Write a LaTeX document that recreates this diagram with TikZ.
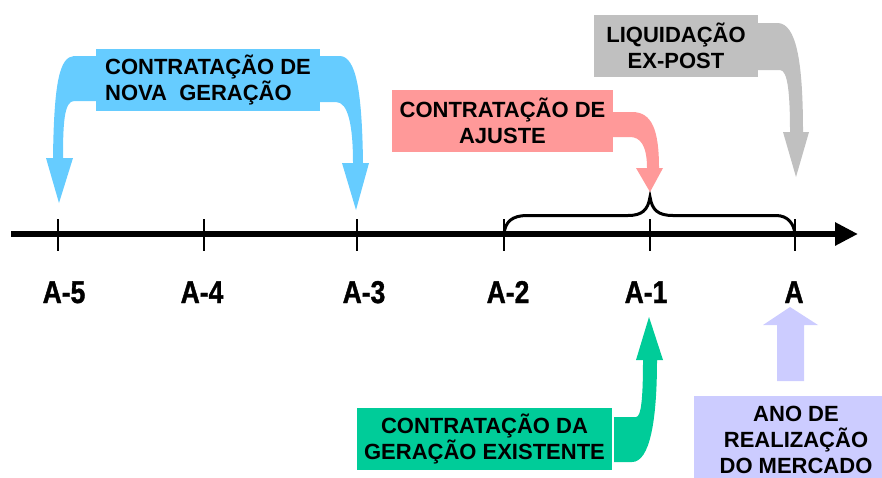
\documentclass[tikz,border=0pt]{standalone}
\usepackage{fontspec}
\setmainfont{Liberation Sans}
\newfontfamily\axisfont{Liberation Sans}[FakeStretch=0.84, FakeBold=1.2]
\usepackage{tikz}
\usetikzlibrary{arrows.meta}
\definecolor{novablue}{RGB}{102, 204, 255}
\definecolor{ajustepink}{RGB}{255, 153, 153}
\definecolor{liquidgray}{RGB}{192, 192, 192}
\definecolor{existgreen}{RGB}{0, 204, 153}
\definecolor{anolilac}{RGB}{204, 204, 255}

\begin{document}
\begin{tikzpicture}[x=1pt, y=-1pt,
            boxtext/.style = {
                inner sep=0pt,
                text=black,
                align=center,
                minimum height=62pt,
                font=\fontsize{22}{26}\selectfont\bfseries,
                },
            yearlabel/.style = {
                anchor=base,
                inner sep=0pt,
                font=\axisfont\fontsize{31.5}{32}\selectfont\bfseries,
                },
            tick/.style = {line width=1.4pt},
            axis/.style = {line width=6.5pt, -{Triangle[length=23pt, width=22pt]}},
            brace/.style = {line width=3pt, line cap=round}]
            \clip (0,0) rectangle (882,477);

            % linha do tempo
            \coordinate (start) at (11,234);
            \coordinate (end) at (858,234);
            \draw[axis] (start) -- (end);
            \foreach \x/\n/\txt/\dx in {58/5/A-5/6, 204/4/A-4/-2, 357/3/A-3/7, 504/2/A-2/4, 650/1/A-1/-4, 795/0/A/-1} {
                \coordinate (a\n) at (\x,234);
                \draw[tick] (a\n) ++(0,-15) -- ++(0,32);
                \node[yearlabel] (lab\n) at (\x+\dx,303) {\txt};
            }
            \draw[brace] (a2) .. controls (505,222) and (512,215.5) .. (527,215.5) -- (628,215.5)
                .. controls (642,215.5) and (648,210) .. (650,197)
                .. controls (652,210) and (658,215.5) .. (673,215.5) -- (776,215.5)
                .. controls (788,215.5) and (794,224) .. (a0);

            % caixas
            \node[boxtext, fill=novablue, minimum width=224pt, align=left] (nova) at (208,80) {CONTRATAÇÃO DE\\NOVA~~GERAÇÃO};
            \node[boxtext, fill=ajustepink, minimum width=221pt] (ajuste) at (502.5,121) {CONTRATAÇÃO DE\\AJUSTE};
            \node[boxtext, fill=liquidgray, minimum width=164pt] (liquid) at (676,46) {LIQUIDAÇÃO\\EX-POST};
            \node[boxtext, fill=existgreen, minimum width=255pt] (exist) at (484.5,439) {CONTRATAÇÃO DA\\GERAÇÃO EXISTENTE};
            \node[boxtext, fill=anolilac, minimum width=204pt, minimum height=88pt] (ano) at (796,440) {ANO DE\\REALIZAÇÃO\\DO MERCADO};
            \fill[anolilac] (ano.south west) rectangle ++(204,10);

            % setas
            \fill[novablue] (96,56) -- (74,56) .. controls (60,57) and (54,80) .. (53,158) -- (46,158) -- (59,203)
                -- (73,158) -- (63,158) .. controls (63,125) and (64,101) .. (74,101) -- (96,101) -- cycle;
            \fill[novablue] (320,56) -- (340,56) .. controls (356,57) and (362,90) .. (363,163) -- (369,163) -- (356,210)
                -- (342,163) -- (353,163) .. controls (353,125) and (348,102) .. (336,102) -- (320,102) -- cycle;
            \fill[ajustepink] (613,112) -- (632,112) .. controls (652,112) and (659,130) .. (659,168) -- (663,168) -- (650,192)
                -- (636,168) -- (647,168) .. controls (647,145) and (640,137) .. (630,137) -- (613,137) -- cycle;
            \fill[liquidgray] (758,23) -- (778,23) .. controls (796,24) and (803,60) .. (803,132) -- (809,132) -- (796,177)
                -- (783,132) -- (790,132) .. controls (790,95) and (788,70) .. (780,70) -- (758,70) -- cycle;
            \fill[existgreen] (614,417) -- (636,417) .. controls (641,417) and (643,400) .. (643,360) -- (636,360) -- (649,317)
                -- (663,360) -- (657,360) .. controls (657,420) and (650,462) .. (632,462) -- (614,462) -- cycle;
            \fill[anolilac] (777,381) -- (777,325) -- (763,325) -- (790,307) -- (818,325) -- (804,325) -- (804,381) -- cycle;
        \end{tikzpicture}
\end{document}
